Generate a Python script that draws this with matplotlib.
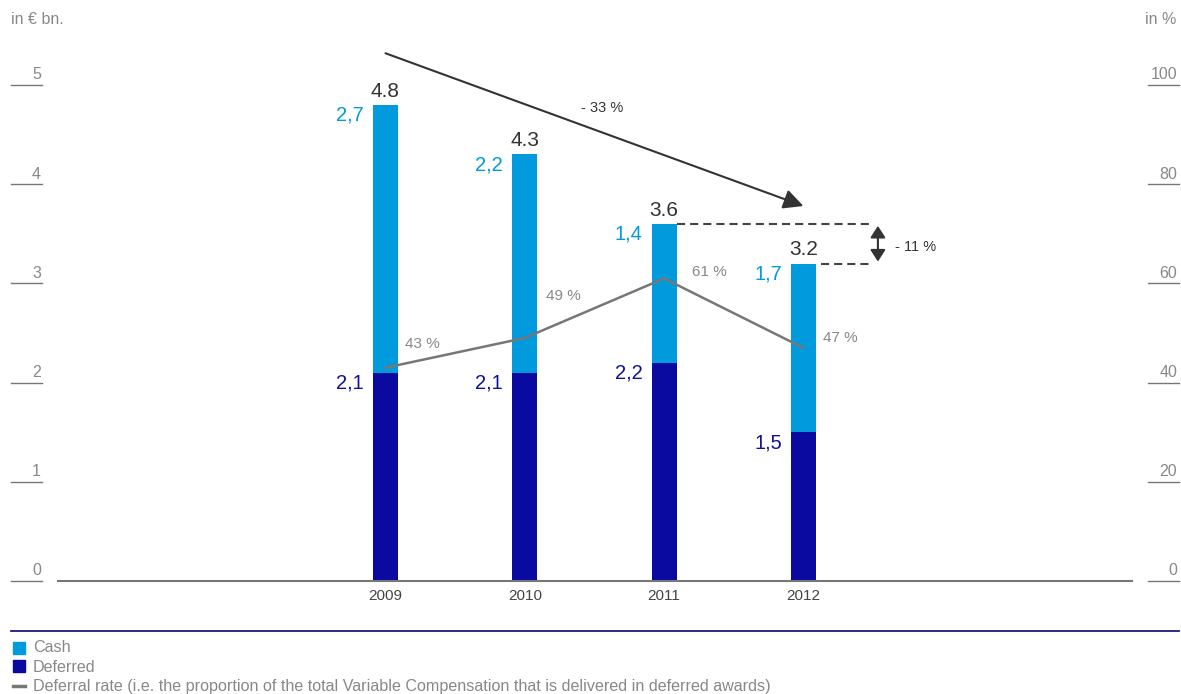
import matplotlib
matplotlib.use("Agg")
import matplotlib.pyplot as plt
import matplotlib.transforms as mtransforms
from matplotlib.lines import Line2D
from matplotlib.patches import Rectangle

plt.rcParams['font.family'] = ['Liberation Sans', 'DejaVu Sans']

# data
years = ['2009', '2010', '2011', '2012']
deferred = [2.1, 2.1, 2.2, 1.5]
cash = [2.7, 2.2, 1.4, 1.7]
totals = [4.8, 4.3, 3.6, 3.2]
deferral_rate = [43, 49, 61, 47]
cash_labels = ['2,7', '2,2', '1,4', '1,7']
deferred_labels = ['2,1', '2,1', '2,2', '1,5']
total_labels = ['4.8', '4.3', '3.6', '3.2']
rate_labels = ['43 %', '49 %', '61 %', '47 %']
left_ticks = [0, 1, 2, 3, 4, 5]
right_ticks = [0, 20, 40, 60, 80, 100]

CASH = '#009ADD'
DEFERRED = '#0A0AA0'
DARK = '#333333'
GREY = '#888888'

W, H = 1181, 694
fig = plt.figure(figsize=(W / 100, H / 100), dpi=100)

def fx(px):
    return px / W

def fy(py):
    return 1 - py / H

ax = fig.add_axes([fx(58), fy(581), fx(1132) - fx(58), (581 - 85) / H])
ax.set_xlim(-2.351, 5.359)
ax.set_ylim(0, 5)
ax.axis('off')
ax2 = ax.twinx()
ax2.set_ylim(0, 100)
ax2.axis('off')

x = list(range(len(years)))
bw = 0.18
ax.bar(x, deferred, width=bw, color=DEFERRED, zorder=2)
ax.bar(x, cash, bottom=deferred, width=bw, color=CASH, zorder=2)

# baseline
ax.plot([0, 1], [0, 0], transform=ax.transAxes, color='#777777', lw=1.5, clip_on=False)

# y ticks (short lines outside the plot)
bl = mtransforms.blended_transform_factory(fig.transFigure, ax.transData)
br = mtransforms.blended_transform_factory(fig.transFigure, ax2.transData)
for t in left_ticks:
    fig.add_artist(Line2D([fx(11), fx(42)], [t, t], transform=bl, color='#777777', lw=1))
    ax.annotate(str(t), xy=(fx(41), t), xycoords=bl, xytext=(0, 4), textcoords='offset points',
                ha='right', va='baseline', fontsize=11.5, color=GREY)
for t in right_ticks:
    fig.add_artist(Line2D([fx(1148), fx(1179)], [t, t], transform=br, color='#777777', lw=1))
    ax2.annotate(str(t), xy=(fx(1177), t), xycoords=br, xytext=(0, 4), textcoords='offset points',
                 ha='right', va='baseline', fontsize=11.5, color=GREY)

fig.text(fx(11), fy(19), 'in € bn.', fontsize=11.5, color=GREY, va='center', ha='left')
fig.text(fx(1176), fy(19), 'in %', fontsize=11.5, color=GREY, va='center', ha='right')

# year labels
for xi, yr in zip(x, years):
    ax.annotate(yr, xy=(xi, 0), xytext=(0, -11), textcoords='offset points',
                ha='center', va='center', fontsize=11, color='#444444')

# value labels
for xi, d, c, tot, cl, dl, tl in zip(x, deferred, cash, totals, cash_labels, deferred_labels, total_labels):
    ax.annotate(tl, xy=(xi, d + c), xytext=(0, 6), textcoords='offset points',
                ha='center', va='baseline', fontsize=15, color=DARK)
    ax.annotate(cl, xy=(xi - bw / 2, d + c), xytext=(-6.5, -11.5), textcoords='offset points',
                ha='right', va='baseline', fontsize=14.5, color=CASH)
    ax.annotate(dl, xy=(xi - bw / 2, d), xytext=(-6.5, -11.5), textcoords='offset points',
                ha='right', va='baseline', fontsize=14.5, color='#10109A')

# deferral rate line
ax2.plot(x, deferral_rate, color='#777777', lw=1.8, zorder=3)
rate_offsets = [(14, 14), (15, 27), (20, 1.5), (14, 4)]
for xi, r, lab, off in zip(x, deferral_rate, rate_labels, rate_offsets):
    ax2.annotate(lab, xy=(xi, r), xytext=off, textcoords='offset points',
                 ha='left', va='baseline', fontsize=11, color=GREY)

# trend arrow 2009 -> 2012
ax.annotate('', xy=(x[3], totals[3] + 0.58), xytext=(x[0], totals[0] + 0.52),
            arrowprops=dict(arrowstyle='-|>,head_length=1.2,head_width=0.6', mutation_scale=10,
                            lw=1.5, color=DARK, shrinkA=0, shrinkB=0), annotation_clip=False)
ax.text(1.4, 4.77, '- 33 %', ha='left', va='center', fontsize=10.5, color=DARK)

# change 2011 -> 2012
ax.plot([x[2] + bw / 2, 3.5], [totals[2], totals[2]], color='#444444', lw=1.5,
        linestyle=(0, (3.9, 2.4)), clip_on=False)
ax.plot([x[3] + bw / 2 + 0.035, 3.5], [totals[3], totals[3]], color='#444444', lw=1.5,
        linestyle=(0, (3.9, 2.4)), clip_on=False)
ax.annotate('', xy=(3.535, totals[3] + 0.02), xytext=(3.535, totals[2] - 0.02),
            arrowprops=dict(arrowstyle='<|-|>,head_length=0.7,head_width=0.45', mutation_scale=10,
                            lw=1.5, color=DARK, shrinkA=0, shrinkB=0), annotation_clip=False)
ax.text(3.66, (totals[2] + totals[3]) / 2 - 0.03, '- 11 %', ha='left', va='center', fontsize=10.5, color=DARK)

# separator and legend
fig.add_artist(Line2D([fx(11), fx(1179)], [fy(631), fy(631)], color='#1A1A80', lw=1.3))
fig.add_artist(Rectangle((fx(13), fy(654)), fx(12), 12 / H, color=CASH, transform=fig.transFigure))
fig.add_artist(Rectangle((fx(13), fy(672)), fx(12), 12 / H, color=DEFERRED, transform=fig.transFigure))
fig.add_artist(Line2D([fx(13), fx(25)], [fy(686), fy(686)], color='#777777', lw=2.5))
legend_texts = ['Cash', 'Deferred',
                'Deferral rate (i.e. the proportion of the total Variable Compensation that is delivered in deferred awards)']
for t, py in zip(legend_texts, [648, 667, 686]):
    fig.text(fx(33), fy(py), t, fontsize=11.6, color=GREY, va='center', ha='left')

fig.savefig('out.png', dpi=100)
